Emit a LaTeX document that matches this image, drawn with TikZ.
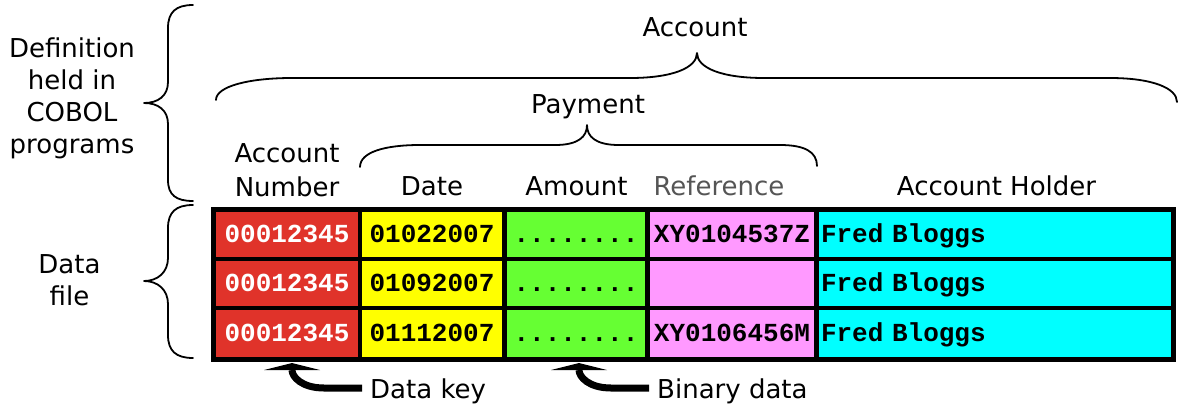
\documentclass[tikz,border=0pt]{standalone}
\usepackage{fontspec}
\setmainfont{DejaVu Sans}
\newfontfamily\cellfont{Liberation Mono}
\usetikzlibrary{arrows.meta}

\definecolor{keyred}{RGB}{224,51,42}
\definecolor{dateyellow}{RGB}{255,255,0}
\definecolor{amtgreen}{RGB}{102,255,51}
\definecolor{refpink}{RGB}{255,153,255}
\definecolor{holdcyan}{RGB}{0,255,255}
\definecolor{refgray}{RGB}{85,85,85}

\begin{document}
\begin{tikzpicture}[x=1pt,y=-1pt,
  lbl/.style={font=\fontsize{26}{32}\selectfont, inner sep=0pt, anchor=base},
  cell/.style={font=\cellfont\bfseries\fontsize{26}{30}\selectfont,
               inner sep=0pt, text height=16pt, text depth=0pt},
  brace/.style={line width=1.8pt, line cap=round, line join=round},
  pointer/.style={line width=7pt,
                  -{Triangle[width=56pt,length=7pt,line width=0pt 0]}}]

\useasboundingbox (0,0) rectangle (1179,405);

% ---------- record table ----------
\fill[black] (211,207) rectangle (1176,362);

\foreach \r/\y/\h in {1/234.5/45, 2/283.5/45, 3/333.5/47} {
  \node[cell, fill=keyred, text=white, minimum width=142pt, minimum height=\h pt]
    (num\r) at (287,\y) {00012345};
}
\node[cell, fill=dateyellow, minimum width=140pt, minimum height=45pt] (date1) at (432,234.5) {01022007};
\node[cell, fill=dateyellow, minimum width=140pt, minimum height=45pt] (date2) at (432,283.5) {01092007};
\node[cell, fill=dateyellow, minimum width=140pt, minimum height=47pt] (date3) at (432,333.5) {01112007};

\foreach \r/\y/\h in {1/234.5/45, 2/283.5/45, 3/333.5/47} {
  \node[cell, fill=amtgreen, minimum width=138pt, minimum height=\h pt]
    (amt\r) at (576,\y) {........};
}
\node[cell, fill=refpink, minimum width=164pt, minimum height=45pt] (ref1) at (732,234.5) {XY0104537Z};
\node[cell, fill=refpink, minimum width=164pt, minimum height=45pt] (ref2) at (732,283.5) {};
\node[cell, fill=refpink, minimum width=164pt, minimum height=47pt] (ref3) at (732,333.5) {XY0106456M};

\foreach \r/\y/\h in {1/234.5/45, 2/283.5/45, 3/333.5/47} {
  \node[cell, fill=holdcyan, minimum width=352pt, minimum height=\h pt,
        text width=348pt, align=left]
    (hold\r) at (995,\y) {Fred Bloggs};
}

% ---------- column headings ----------
\node[lbl, anchor=center, align=center, font=\fontsize{26}{34}\selectfont]
  (hnum) at (287,170) {Account\\Number};
\node[lbl] (hdate) at (432,195) {Date};
\node[lbl] (hamt) at (576.5,195) {Amount};
\node[lbl, text=refgray] (href) at (719,195) {Reference};
\node[lbl] (hhold) at (996.5,195) {Account Holder};

% ---------- group labels and braces ----------
\node[lbl] (hpay) at (588,113) {Payment};
\node[lbl] (hacct) at (695,36) {Account};

\draw[brace] (216,100) .. controls (216,86) and (250,78) .. (292,78)
  -- (630,78) .. controls (672,78) and (697,68) .. (697,53)
  .. controls (697,68) and (722,78) .. (764,78)
  -- (1110,78) .. controls (1152,78) and (1177,88) .. (1177,102);

\draw[brace] (360,167) .. controls (360,152) and (385,145) .. (420,145)
  -- (555,145) .. controls (578,145) and (587,137) .. (587,125)
  .. controls (587,137) and (596,145) .. (619,145)
  -- (780,145) .. controls (805,145) and (817,152) .. (817,166);

% ---------- side labels and braces ----------
\node[lbl, anchor=center, align=center] (hdef) at (72,98.5)
  {Definition\\held in\\COBOL\\programs};
\node[lbl, anchor=center, align=center] (hfile) at (69.5,280) {Data\\file};

\draw[brace] (193,5) .. controls (176,5) and (168,12) .. (168,28)
  -- (168,82) .. controls (168,96) and (158,103) .. (144,103)
  .. controls (158,103) and (168,110) .. (168,124)
  -- (168,180) .. controls (168,195) and (176,201) .. (193,201);

\draw[brace] (193,205) .. controls (176,205) and (168,212) .. (168,228)
  -- (168,258) .. controls (168,272) and (158,281) .. (144,281)
  .. controls (158,281) and (168,290) .. (168,304)
  -- (168,335) .. controls (168,351) and (176,358) .. (193,358);

% ---------- pointers below the table ----------
\node[lbl, anchor=base west] (keylbl) at (370,398) {Data key};
\node[lbl, anchor=base west] (binlbl) at (657,398) {Binary data};
\coordinate (keytip) at (292,363);
\coordinate (bintip) at (579,363);

\draw[pointer] ([shift={(-8,-10)}]keylbl.base west) -- ++(-38,0)
  .. controls +(-22,0) and +(0,14) .. (keytip);
\draw[pointer] ([shift={(-8,-10)}]binlbl.base west) -- ++(-38,0)
  .. controls +(-22,0) and +(0,14) .. (bintip);
\end{tikzpicture}
\end{document}
